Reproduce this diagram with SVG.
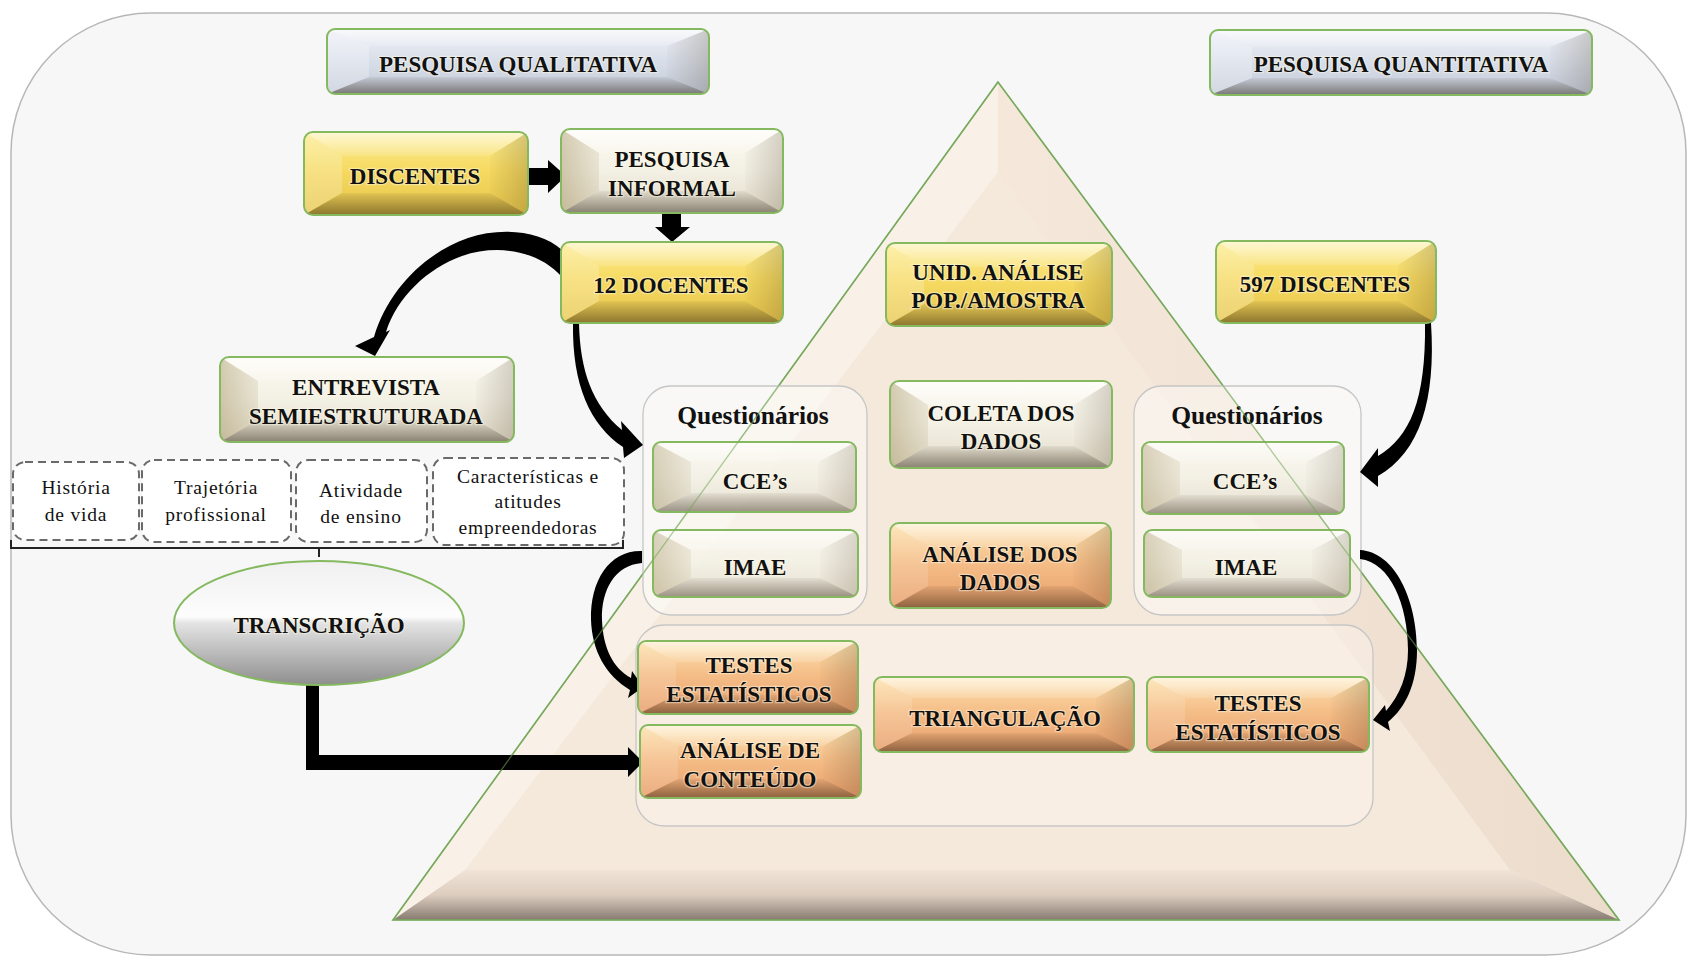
<svg xmlns="http://www.w3.org/2000/svg" width="1689" height="959" viewBox="0 0 1689 959">
<style>
.lb{font-family:"Liberation Serif","Times New Roman",serif;font-weight:bold;font-size:23px;fill:#111;text-anchor:middle;paint-order:stroke;stroke:#fffbe8;stroke-opacity:0.45;stroke-width:2.5px}
.q{font-family:"Liberation Serif","Times New Roman",serif;font-weight:bold;font-size:25.5px;fill:#111;text-anchor:middle}
.dt{font-family:"Liberation Serif","Times New Roman",serif;font-size:19.5px;letter-spacing:0.8px;fill:#111;text-anchor:middle}
.bd{fill:none;stroke:#84b95f;stroke-width:2}
.dash{fill:#fff;stroke:#6a6a6a;stroke-width:2;stroke-dasharray:8 5}
.grp{stroke:#c6c6c6;stroke-width:1.3}
.arr{fill:#000;stroke:none}
.ft{fill:url(#gTop)}
.fo{fill:url(#gBot)}
.fr{fill:url(#gRt)}
.Y .fb{fill:url(#bY)}.Y .fl{fill:#fff;fill-opacity:0.22}
.C .fb{fill:url(#bC)}.C .fl{fill:url(#gLk)}
.O .fb{fill:url(#bO)}.O .fl{fill:#fff;fill-opacity:0.14}
.B .fb{fill:url(#bB)}.B .fl{fill:#fff;fill-opacity:0.25}
.tr{opacity:0.86}
</style>
<defs>
<clipPath id="rc" clipPathUnits="objectBoundingBox"><rect width="1" height="1" rx="0.03" ry="0.1"/></clipPath>
<linearGradient id="bY" x1="0" y1="0" x2="0" y2="1"><stop offset="0" stop-color="#fcec92"/><stop offset="0.45" stop-color="#f6da62"/><stop offset="1" stop-color="#e6c54c"/></linearGradient>
<linearGradient id="bC" x1="0" y1="0" x2="0" y2="1"><stop offset="0" stop-color="#fcfaf2"/><stop offset="0.5" stop-color="#f3f0e4"/><stop offset="1" stop-color="#e2dccb"/></linearGradient>
<linearGradient id="bO" x1="0" y1="0" x2="0" y2="1"><stop offset="0" stop-color="#fde4b2"/><stop offset="0.45" stop-color="#f5be88"/><stop offset="1" stop-color="#e89f6c"/></linearGradient>
<linearGradient id="bB" x1="0" y1="0" x2="0" y2="1"><stop offset="0" stop-color="#eef1f7"/><stop offset="0.5" stop-color="#d8dee9"/><stop offset="1" stop-color="#c2c9d7"/></linearGradient>
<linearGradient id="gTop" x1="0" y1="0" x2="0" y2="1"><stop offset="0" stop-color="#fff" stop-opacity="0.6"/><stop offset="1" stop-color="#fff" stop-opacity="0.12"/></linearGradient>
<linearGradient id="gBot" x1="0" y1="0" x2="0" y2="1"><stop offset="0" stop-color="#2c2010" stop-opacity="0.06"/><stop offset="1" stop-color="#2c2010" stop-opacity="0.48"/></linearGradient>
<linearGradient id="gRt" x1="0" y1="0" x2="1" y2="0"><stop offset="0" stop-color="#3a2a10" stop-opacity="0.02"/><stop offset="1" stop-color="#3a2a10" stop-opacity="0.2"/></linearGradient>
<linearGradient id="gLk" x1="0" y1="0" x2="1" y2="0"><stop offset="0" stop-color="#9c8a58" stop-opacity="0.42"/><stop offset="1" stop-color="#9c8a58" stop-opacity="0.14"/></linearGradient>
<linearGradient id="gTriB" x1="0" y1="0" x2="0" y2="1"><stop offset="0" stop-color="#f1e4d6"/><stop offset="0.5" stop-color="#dccdbf"/><stop offset="1" stop-color="#877b71"/></linearGradient>
<linearGradient id="gTriR" x1="0" y1="0" x2="1" y2="0"><stop offset="0" stop-color="#f5e8db"/><stop offset="1" stop-color="#ecdccc"/></linearGradient>
<linearGradient id="gEl" x1="0" y1="0" x2="0" y2="1"><stop offset="0" stop-color="#f0f0f0"/><stop offset="0.45" stop-color="#fdfdfd"/><stop offset="0.5" stop-color="#e4e4e4"/><stop offset="1" stop-color="#8e8e8e"/></linearGradient>
</defs>

<rect x="11" y="13" width="1675" height="942" rx="140" ry="140" fill="#f7f7f7" stroke="#b5b9b5" stroke-width="1.5"/>

<g id="pyramid">
<polygon points="998,82 393,920 1619,920" fill="#f5e9dc"/>
<polygon points="998,82 393,920 465,870 998,172" fill="#f9f1e8"/>
<polygon points="998,82 1619,920 1510,870 998,172" fill="url(#gTriR)"/>
<polygon points="393,920 465,870 1510,870 1619,920" fill="url(#gTriB)"/>
<polygon points="998,82 393,920 1619,920" fill="none" stroke="#78aa5c" stroke-width="1.6"/>
</g>

<g id="containers">
<rect id="grp-q-left" class="grp" x="643" y="386" width="224" height="229" rx="28" fill="#fbf9f6" fill-opacity="0.55"/>
<rect id="grp-q-right" class="grp" x="1134" y="386" width="227" height="229" rx="28" fill="#fbf9f6" fill-opacity="0.55"/>
<rect id="grp-analysis" class="grp" x="636" y="625" width="737" height="201" rx="28" fill="#fbf3ec" fill-opacity="0.5" stroke="#d2cdc8"/>
<text class="q" x="753" y="424">Questionários</text>
<text class="q" x="1247" y="424">Questionários</text>
</g>

<g id="connectors">
<polygon class="arr" points="528,168 548,168 548,160 566,176 548,193 548,185 528,185"/>
<polygon class="arr" points="662,213 681,213 681,227 690,227 672,242 655,227 662,227"/>
<path class="arr" d="M562,250 C540,230 500,227 468,238 C425,253 388,290 374,337 L355,346 L375,356 L390,330 L386,332 C397,297 428,268 462,256 C497,244 538,250 562,277 Z"/>
<path class="arr" d="M573,323 L579,323 C580,370 592,405 622,430 L621,421 L643,445 L624,458 L623,447 C590,425 572,385 573,323 Z"/>
<path class="arr" d="M1425,323 L1431,323 C1436,400 1420,452 1378,476 L1378,487 L1360,472 L1378,448 L1378,456 C1410,437 1426,400 1425,323 Z"/>
<path class="arr" d="M642,551 C610,550 590,580 591,620 C592,650 605,675 630,690 L628,698 L643,687 L632,671 L631,678 C613,668 603,648 602,620 C601,590 615,565 642,563 Z"/>
<path class="arr" d="M1360,550 C1395,552 1417,600 1417,650 C1417,685 1405,708 1388,722 L1390,731 L1373,720 L1385,705 L1386,711 C1400,695 1408,675 1408,650 C1408,605 1390,562 1360,559 Z"/>
<path class="arr" d="M306,685 L319,685 L319,755 L628,755 L628,747 L643,762 L628,777 L628,770 L306,770 Z"/>
<path d="M11,540 L11,548 L623,548 L623,540 M319,548 L319,557" fill="none" stroke="#222" stroke-width="2"/>
</g>

<g id="n-qual" class="B">
<g clip-path="url(#rc)"><rect class="fb" x="327" y="29" width="382" height="65"/>
<polygon class="ft" points="327,29 709,29 667,46 369,46"/><polygon class="fl" points="327,29 369,46 369,77 327,94"/><polygon class="fr" points="709,29 667,46 667,77 709,94"/><polygon class="fo" points="327,94 369,77 667,77 709,94"/></g>
<rect class="bd" x="327" y="29" width="382" height="65" rx="8"/>
<text class="lb" x="518" y="72">PESQUISA QUALITATIVA</text>
</g>

<g id="n-quant" class="B">
<g clip-path="url(#rc)"><rect class="fb" x="1210" y="30" width="382" height="65"/>
<polygon class="ft" points="1210,30 1592,30 1550,47 1252,47"/><polygon class="fl" points="1210,30 1252,47 1252,78 1210,95"/><polygon class="fr" points="1592,30 1550,47 1550,78 1592,95"/><polygon class="fo" points="1210,95 1252,78 1550,78 1592,95"/></g>
<rect class="bd" x="1210" y="30" width="382" height="65" rx="8"/>
<text class="lb" x="1401" y="72">PESQUISA QUANTITATIVA</text>
</g>

<g id="n-discentes" class="Y">
<g clip-path="url(#rc)"><rect class="fb" x="304" y="132" width="224" height="83"/>
<polygon class="ft" points="304,132 528,132 490,156 342,156"/><polygon class="fl" points="304,132 342,156 342,193 304,215"/><polygon class="fr" points="528,132 490,156 490,193 528,215"/><polygon class="fo" points="304,215 342,193 490,193 528,215"/></g>
<rect class="bd" x="304" y="132" width="224" height="83" rx="9"/>
<text class="lb" x="415" y="184">DISCENTES</text>
</g>

<g id="n-pesquisa-informal" class="C">
<g clip-path="url(#rc)"><rect class="fb" x="561" y="129" width="222" height="84"/>
<polygon class="ft" points="561,129 783,129 745,153 599,153"/><polygon class="fl" points="561,129 599,153 599,191 561,213"/><polygon class="fr" points="783,129 745,153 745,191 783,213"/><polygon class="fo" points="561,213 599,191 745,191 783,213"/></g>
<rect class="bd" x="561" y="129" width="222" height="84" rx="9"/>
<text class="lb" x="672" y="167">PESQUISA</text>
<text class="lb" x="672" y="196">INFORMAL</text>
</g>

<g id="n-12-docentes" class="Y">
<g clip-path="url(#rc)"><rect class="fb" x="561" y="242" width="222" height="81"/>
<polygon class="ft" points="561,242 783,242 745,266 599,266"/><polygon class="fl" points="561,242 599,266 599,301 561,323"/><polygon class="fr" points="783,242 745,266 745,301 783,323"/><polygon class="fo" points="561,323 599,301 745,301 783,323"/></g>
<rect class="bd" x="561" y="242" width="222" height="81" rx="9"/>
<text class="lb" x="671" y="293">12 DOCENTES</text>
</g>

<g id="n-entrevista" class="C">
<g clip-path="url(#rc)"><rect class="fb" x="220" y="357" width="294" height="85"/>
<polygon class="ft" points="220,357 514,357 476,381 258,381"/><polygon class="fl" points="220,357 258,381 258,420 220,442"/><polygon class="fr" points="514,357 476,381 476,420 514,442"/><polygon class="fo" points="220,442 258,420 476,420 514,442"/></g>
<rect class="bd" x="220" y="357" width="294" height="85" rx="9"/>
<text class="lb" x="366" y="395">ENTREVISTA</text>
<text class="lb" x="366" y="424">SEMIESTRUTURADA</text>
</g>

<g id="n-unid" class="Y">
<g clip-path="url(#rc)"><rect class="fb" x="886" y="243" width="226" height="83"/>
<polygon class="ft" points="886,243 1112,243 1074,267 924,267"/><polygon class="fl" points="886,243 924,267 924,304 886,326"/><polygon class="fr" points="1112,243 1074,267 1074,304 1112,326"/><polygon class="fo" points="886,326 924,304 1074,304 1112,326"/></g>
<rect class="bd" x="886" y="243" width="226" height="83" rx="9"/>
<text class="lb" x="998" y="280">UNID. ANÁLISE</text>
<text class="lb" x="998" y="308">POP./AMOSTRA</text>
</g>

<g id="n-597" class="Y">
<g clip-path="url(#rc)"><rect class="fb" x="1216" y="241" width="220" height="82"/>
<polygon class="ft" points="1216,241 1436,241 1398,265 1254,265"/><polygon class="fl" points="1216,241 1254,265 1254,301 1216,323"/><polygon class="fr" points="1436,241 1398,265 1398,301 1436,323"/><polygon class="fo" points="1216,323 1254,301 1398,301 1436,323"/></g>
<rect class="bd" x="1216" y="241" width="220" height="82" rx="9"/>
<text class="lb" x="1325" y="292">597 DISCENTES</text>
</g>

<g id="n-coleta" class="C">
<g clip-path="url(#rc)"><rect class="fb" x="890" y="381" width="222" height="87"/>
<polygon class="ft" points="890,381 1112,381 1074,405 928,405"/><polygon class="fl" points="890,381 928,405 928,446 890,468"/><polygon class="fr" points="1112,381 1074,405 1074,446 1112,468"/><polygon class="fo" points="890,468 928,446 1074,446 1112,468"/></g>
<rect class="bd" x="890" y="381" width="222" height="87" rx="9"/>
<text class="lb" x="1001" y="421">COLETA DOS</text>
<text class="lb" x="1001" y="449">DADOS</text>
</g>

<g id="n-analise-dados" class="O">
<g clip-path="url(#rc)"><rect class="fb" x="890" y="523" width="221" height="85"/>
<polygon class="ft" points="890,523 1111,523 1073,547 928,547"/><polygon class="fl" points="890,523 928,547 928,586 890,608"/><polygon class="fr" points="1111,523 1073,547 1073,586 1111,608"/><polygon class="fo" points="890,608 928,586 1073,586 1111,608"/></g>
<rect class="bd" x="890" y="523" width="221" height="85" rx="9"/>
<text class="lb" x="1000" y="562">ANÁLISE DOS</text>
<text class="lb" x="1000" y="590">DADOS</text>
</g>

<g id="n-cce-left" class="C">
<g clip-path="url(#rc)" class="tr"><rect class="fb" x="653" y="442" width="203" height="70"/>
<polygon class="ft" points="653,442 856,442 818,462 691,462"/><polygon class="fl" points="653,442 691,462 691,493 653,512"/><polygon class="fr" points="856,442 818,462 818,493 856,512"/><polygon class="fo" points="653,512 691,493 818,493 856,512"/></g>
<rect class="bd" x="653" y="442" width="203" height="70" rx="8"/>
<text class="lb" x="755" y="489">CCE’s</text>
</g>

<g id="n-imae-left" class="C">
<g clip-path="url(#rc)" class="tr"><rect class="fb" x="653" y="530" width="205" height="67"/>
<polygon class="ft" points="653,530 858,530 820,550 691,550"/><polygon class="fl" points="653,530 691,550 691,578 653,597"/><polygon class="fr" points="858,530 820,550 820,578 858,597"/><polygon class="fo" points="653,597 691,578 820,578 858,597"/></g>
<rect class="bd" x="653" y="530" width="205" height="67" rx="8"/>
<text class="lb" x="755" y="575">IMAE</text>
</g>

<g id="n-cce-right" class="C">
<g clip-path="url(#rc)" class="tr"><rect class="fb" x="1142" y="442" width="202" height="72"/>
<polygon class="ft" points="1142,442 1344,442 1306,462 1180,462"/><polygon class="fl" points="1142,442 1180,462 1180,495 1142,514"/><polygon class="fr" points="1344,442 1306,462 1306,495 1344,514"/><polygon class="fo" points="1142,514 1180,495 1306,495 1344,514"/></g>
<rect class="bd" x="1142" y="442" width="202" height="72" rx="8"/>
<text class="lb" x="1245" y="489">CCE’s</text>
</g>

<g id="n-imae-right" class="C">
<g clip-path="url(#rc)" class="tr"><rect class="fb" x="1144" y="530" width="206" height="67"/>
<polygon class="ft" points="1144,530 1350,530 1312,550 1182,550"/><polygon class="fl" points="1144,530 1182,550 1182,578 1144,597"/><polygon class="fr" points="1350,530 1312,550 1312,578 1350,597"/><polygon class="fo" points="1144,597 1182,578 1312,578 1350,597"/></g>
<rect class="bd" x="1144" y="530" width="206" height="67" rx="8"/>
<text class="lb" x="1246" y="575">IMAE</text>
</g>

<g id="n-testes-left" class="O">
<g clip-path="url(#rc)"><rect class="fb" x="638" y="641" width="220" height="73"/>
<polygon class="ft" points="638,641 858,641 820,662 676,662"/><polygon class="fl" points="638,641 676,662 676,695 638,714"/><polygon class="fr" points="858,641 820,662 820,695 858,714"/><polygon class="fo" points="638,714 676,695 820,695 858,714"/></g>
<rect class="bd" x="638" y="641" width="220" height="73" rx="8"/>
<text class="lb" x="749" y="673">TESTES</text>
<text class="lb" x="749" y="702">ESTATÍSTICOS</text>
</g>

<g id="n-analise-conteudo" class="O">
<g clip-path="url(#rc)"><rect class="fb" x="640" y="725" width="221" height="73"/>
<polygon class="ft" points="640,725 861,725 823,746 678,746"/><polygon class="fl" points="640,725 678,746 678,779 640,798"/><polygon class="fr" points="861,725 823,746 823,779 861,798"/><polygon class="fo" points="640,798 678,779 823,779 861,798"/></g>
<rect class="bd" x="640" y="725" width="221" height="73" rx="8"/>
<text class="lb" x="750" y="758">ANÁLISE DE</text>
<text class="lb" x="750" y="787">CONTEÚDO</text>
</g>

<g id="n-triangulacao" class="O">
<g clip-path="url(#rc)"><rect class="fb" x="874" y="677" width="260" height="75"/>
<polygon class="ft" points="874,677 1134,677 1096,698 912,698"/><polygon class="fl" points="874,677 912,698 912,733 874,752"/><polygon class="fr" points="1134,677 1096,698 1096,733 1134,752"/><polygon class="fo" points="874,752 912,733 1096,733 1134,752"/></g>
<rect class="bd" x="874" y="677" width="260" height="75" rx="8"/>
<text class="lb" x="1005" y="726">TRIANGULAÇÃO</text>
</g>

<g id="n-testes-right" class="O">
<g clip-path="url(#rc)"><rect class="fb" x="1147" y="677" width="222" height="75"/>
<polygon class="ft" points="1147,677 1369,677 1331,698 1185,698"/><polygon class="fl" points="1147,677 1185,698 1185,733 1147,752"/><polygon class="fr" points="1369,677 1331,698 1331,733 1369,752"/><polygon class="fo" points="1147,752 1185,733 1331,733 1369,752"/></g>
<rect class="bd" x="1147" y="677" width="222" height="75" rx="8"/>
<text class="lb" x="1258" y="711">TESTES</text>
<text class="lb" x="1258" y="740">ESTATÍSTICOS</text>
</g>

<g id="n-historia">
<rect class="dash" x="13" y="462" width="126" height="78" rx="12"/>
<text class="dt" x="76" y="494">História</text>
<text class="dt" x="76" y="521">de vida</text>
</g>
<g id="n-trajetoria">
<rect class="dash" x="142" y="460" width="149" height="82" rx="12"/>
<text class="dt" x="216" y="494">Trajetória</text>
<text class="dt" x="216" y="521">profissional</text>
</g>
<g id="n-atividade">
<rect class="dash" x="296" y="460" width="131" height="82" rx="12"/>
<text class="dt" x="361" y="497">Atividade</text>
<text class="dt" x="361" y="523">de ensino</text>
</g>
<g id="n-caracteristicas">
<rect class="dash" x="433" y="458" width="191" height="87" rx="12"/>
<text class="dt" x="528" y="483">Características e</text>
<text class="dt" x="528" y="508">atitudes</text>
<text class="dt" x="528" y="534">empreendedoras</text>
</g>

<g id="n-transcricao">
<ellipse cx="319" cy="623" rx="145" ry="62" fill="url(#gEl)" stroke="#84b95f" stroke-width="2"/>
<text class="lb" x="319" y="633">TRANSCRIÇÃO</text>
</g>

<path d="M998,82 L393,920 L1619,920 Z" fill="none" stroke="#78aa5c" stroke-width="1.3" stroke-opacity="0.55"/>
</svg>
